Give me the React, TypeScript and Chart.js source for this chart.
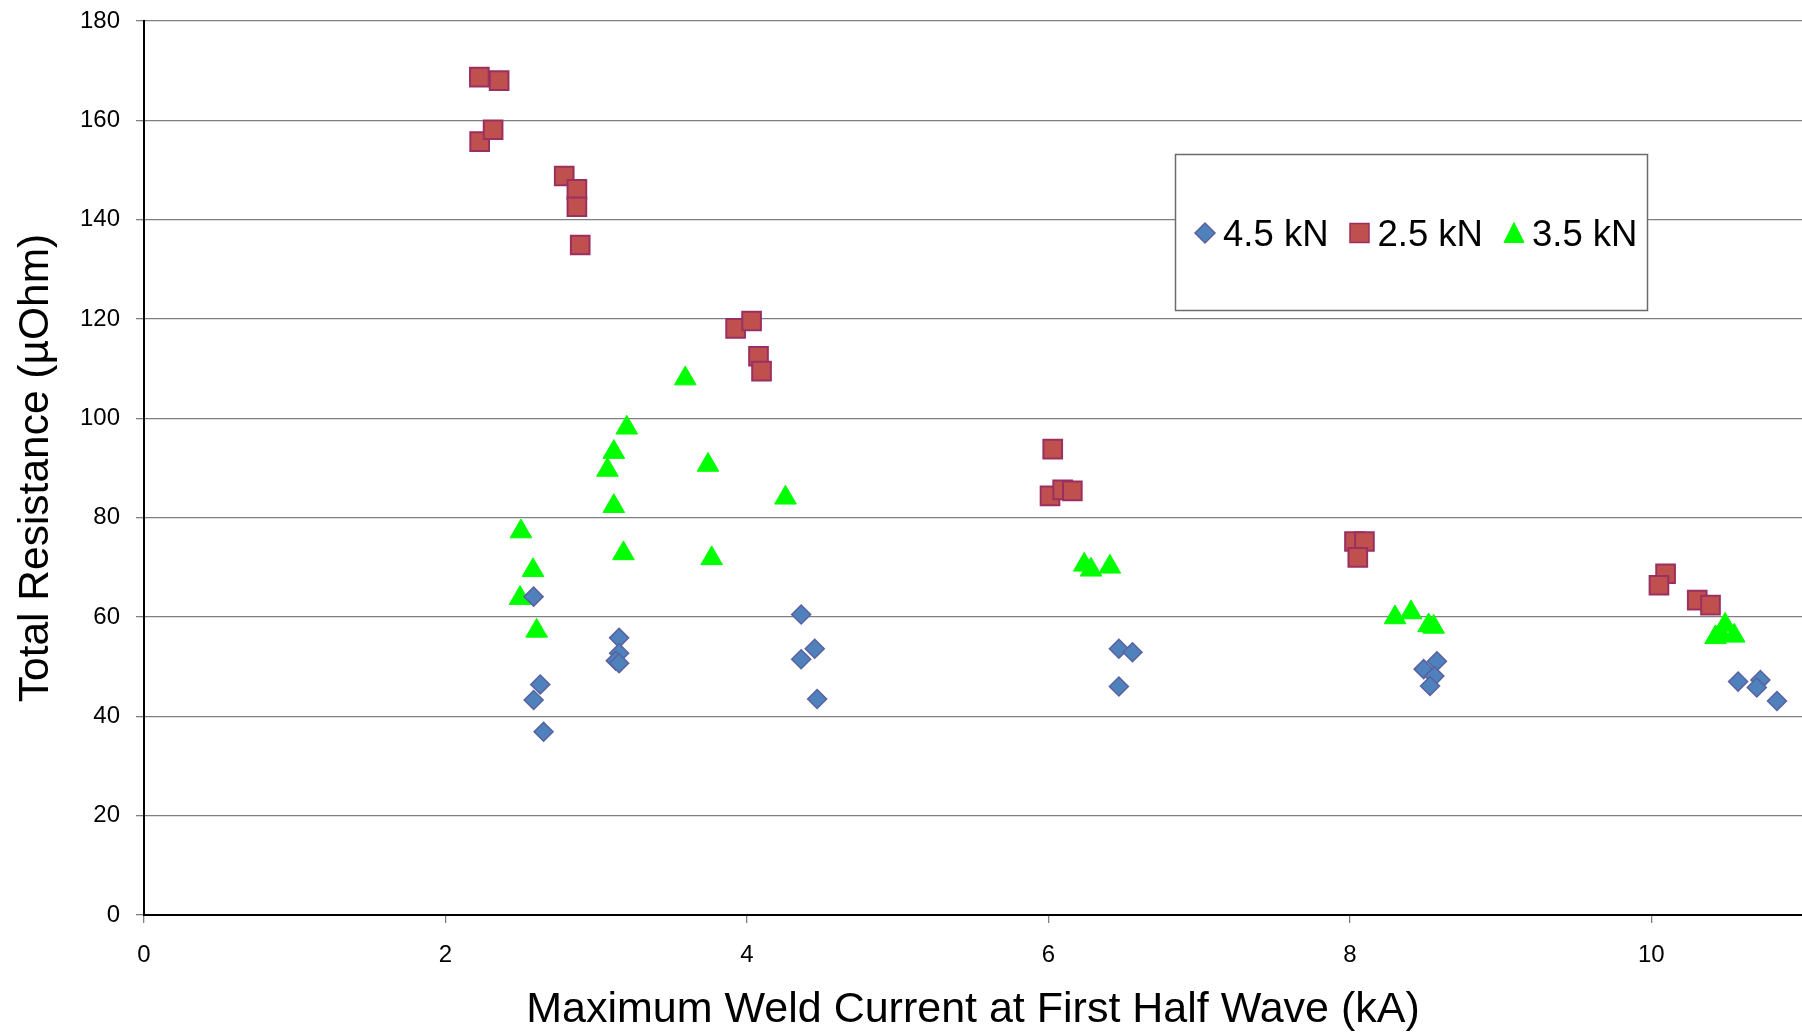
import React, { useEffect, useRef } from "react";
import { Chart, registerables } from "chart.js";

Chart.register(...registerables);

const FONT = '"Liberation Sans", Arial, Helvetica, sans-serif';

const seriesLabels = ["4.5 kN", "2.5 kN", "3.5 kN"];

const x45 = [2.585, 2.585, 2.629, 2.651, 3.152, 3.152, 3.13, 3.152, 4.36, 4.45, 4.36, 4.466, 6.468, 6.558, 6.468, 8.578, 8.49, 8.561, 8.532, 10.576, 10.724, 10.7, 10.834];
const y45 = [64.1, 43.3, 46.4, 36.9, 55.8, 52.7, 51.2, 50.7, 60.5, 53.6, 51.5, 43.5, 53.6, 52.9, 46.0, 51.1, 49.5, 48.1, 46.1, 47.0, 47.3, 45.8, 43.1];

const x25 = [2.225, 2.356, 2.227, 2.316, 2.788, 2.872, 2.872, 2.894, 3.925, 4.031, 4.077, 4.097, 6.029, 6.011, 6.095, 6.159, 8.031, 8.097, 8.053, 10.095, 10.051, 10.305, 10.393];
const y25 = [168.7, 168.0, 155.7, 158.1, 148.8, 146.1, 142.6, 134.9, 118.1, 119.6, 112.5, 109.5, 93.8, 84.4, 85.6, 85.4, 75.2, 75.2, 72.0, 68.7, 66.4, 63.4, 62.4];

const x35 = [2.501, 2.581, 2.495, 2.605, 3.203, 3.117, 3.075, 3.117, 3.181, 3.591, 3.742, 3.766, 4.256, 6.238, 6.283, 6.408, 8.3, 8.406, 8.523, 8.556, 10.426, 10.49, 10.55, 10.46];
const y35 = [77.2, 69.4, 63.8, 57.2, 98.1, 93.2, 89.6, 82.3, 72.8, 108.0, 90.6, 71.8, 84.0, 70.5, 69.5, 70.1, 59.9, 60.9, 58.3, 58.0, 55.9, 58.4, 56.2, 56.6];

const xTitle = "Maximum Weld Current at First Half Wave (kA)";
const yTitle = "Total Resistance (µOhm)";

const zip = (xs: number[], ys: number[]) => xs.map((x, i) => ({ x, y: ys[i] }));

function drawMarker(ctx: CanvasRenderingContext2D, style: string, cx: number, cy: number, fill: string, stroke: string, lw: number) {
  ctx.beginPath();
  if (style === "rectRot") {
    ctx.moveTo(cx - 10, cy);
    ctx.lineTo(cx, cy - 10);
    ctx.lineTo(cx + 10, cy);
    ctx.lineTo(cx, cy + 10);
    ctx.closePath();
  } else if (style === "rect") {
    ctx.rect(cx - 9.5, cy - 9.5, 19, 19);
  } else {
    ctx.moveTo(cx, cy - 10);
    ctx.lineTo(cx + 10, cy + 10);
    ctx.lineTo(cx - 10, cy + 10);
    ctx.closePath();
  }
  ctx.fillStyle = fill;
  ctx.fill();
  ctx.strokeStyle = stroke;
  ctx.lineWidth = lw;
  ctx.stroke();
}

const boxLegend = {
  id: "boxLegend",
  afterDatasetsDraw(chart: any) {
    const ctx: CanvasRenderingContext2D = chart.ctx;
    ctx.save();
    const bx = 1175.5, by = 154.5, bw = 472, bh = 156;
    ctx.fillStyle = "#ffffff";
    ctx.fillRect(bx, by, bw, bh);
    ctx.strokeStyle = "#6b6b6b";
    ctx.lineWidth = 1.5;
    ctx.strokeRect(bx, by, bw, bh);
    ctx.font = `36.5px ${FONT}`;
    ctx.textBaseline = "alphabetic";
    ctx.textAlign = "left";
    let x = 1195;
    const cy = 233;
    chart.data.datasets.forEach((ds: any) => {
      drawMarker(ctx, ds.pointStyle, x + 10, ds.pointStyle === "triangle" ? cy - 0.5 : cy, ds.backgroundColor, ds.borderColor, ds.pointStyle === "triangle" ? 1 : 1.5);
      x += 28;
      ctx.fillStyle = "#000";
      ctx.fillText(ds.label, x, 246);
      x += ctx.measureText(ds.label).width + 21;
    });
    ctx.restore();
  },
};

export default function App() {
  const ref = useRef<HTMLCanvasElement | null>(null);

  useEffect(() => {
    if (!ref.current) return;
    const chart = new Chart(ref.current, {
      type: "scatter",
      data: {
        datasets: [
          {
            label: seriesLabels[0],
            data: zip(x45, y45),
            pointStyle: "rectRot",
            pointRadius: 9.5,
            pointHoverRadius: 9.5,
            backgroundColor: "#4F81BD",
            borderColor: "#5A629F",
            borderWidth: 1.5,
            order: 0,
          },
          {
            label: seriesLabels[1],
            data: zip(x25, y25),
            pointStyle: "rect",
            pointRadius: 13.2,
            pointHoverRadius: 13.2,
            backgroundColor: "#C0504D",
            borderColor: "#9A2F62",
            borderWidth: 2,
            order: 2,
          },
          {
            label: seriesLabels[2],
            data: zip(x35, y35),
            pointStyle: "triangle",
            pointRadius: 12.5,
            pointHoverRadius: 12.5,
            backgroundColor: "#00FF00",
            borderColor: "#00FF00",
            borderWidth: 1,
            order: 1,
          },
        ],
      },
      options: {
        animation: false,
        responsive: false,
        devicePixelRatio: 1,
        layout: { autoPadding: false, padding: { top: 21, right: 0, left: 0, bottom: 0 } },
        plugins: {
          legend: { display: false },
          tooltip: { enabled: false },
        },
        scales: {
          x: {
            type: "linear",
            min: 0,
            max: 11,
            afterFit: (s: any) => {
              s.height = 121;
              s.paddingLeft = 0;
              s.paddingRight = 0;
              s.paddingTop = 0;
              s.paddingBottom = 0;
            },
            ticks: {
              stepSize: 2,
              includeBounds: false,
              color: "#000",
              padding: 18,
              maxRotation: 0,
              font: { family: FONT, size: 24 },
            },
            grid: {
              display: true,
              drawOnChartArea: false,
              drawTicks: true,
              tickLength: 8,
              color: "#808080",
              lineWidth: 1.3,
            },
            border: { display: true, color: "#000", width: 2 },
            title: {
              display: true,
              text: xTitle,
              color: "#000",
              font: { family: FONT, size: 43 },
              padding: { top: 0, bottom: 0 },
            },
          },
          y: {
            type: "linear",
            min: 0,
            max: 180,
            afterFit: (s: any) => {
              s.width = 144;
              s.paddingLeft = 0;
              s.paddingRight = 0;
              s.paddingTop = 0;
              s.paddingBottom = 0;
            },
            ticks: {
              stepSize: 20,
              color: "#000",
              padding: 16,
              font: { family: FONT, size: 24 },
            },
            grid: {
              display: true,
              drawOnChartArea: true,
              drawTicks: true,
              tickLength: 8,
              color: "#7f7f7f",
              lineWidth: 1.3,
            },
            border: { display: true, color: "#000", width: 2 },
            title: {
              display: true,
              text: yTitle,
              color: "#000",
              font: { family: FONT, size: 42.5 },
              padding: { top: 11, bottom: 0 },
            },
          },
        },
      },
      plugins: [boxLegend],
    } as any);
    return () => chart.destroy();
  }, []);

  return (
    <div style={{ position: "fixed", left: 0, top: 0, width: 1802, height: 1036, background: "#fff" }}>
      <canvas ref={ref} width={1802} height={1036} />
    </div>
  );
}
